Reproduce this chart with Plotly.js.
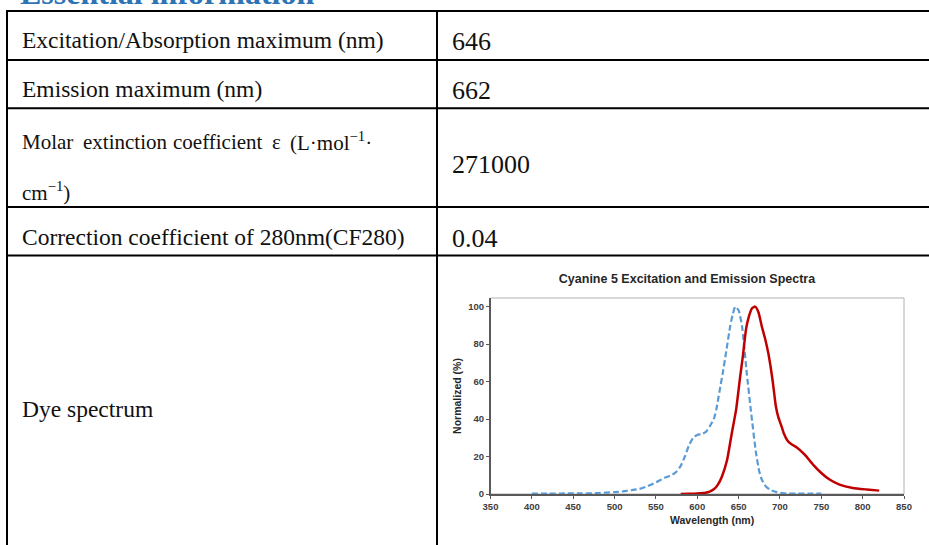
<!DOCTYPE html>
<html>
<head>
<meta charset="utf-8">
<script src="https://cdn.plot.ly/plotly-3.0.1.min.js"></script>
<style>
  html, body { margin: 0; padding: 0; background: #ffffff; }
  #chart { width: 929px; height: 545px; }
</style>
</head>
<body>
<div id="chart"></div>
<script>
// ---------- data ----------
const sectionTitle = "Essential information";
const propertyLabels = [
  "Excitation/Absorption maximum (nm)",
  "Emission maximum (nm)",
  "Molar extinction coefficient ε (L·mol<sup>−1</sup>· cm<sup>−1</sup>)",
  "Correction coefficient of 280nm(CF280)",
  "Dye spectrum"
];
const propertyValues = ["646", "662", "271000", "0.04"];

const chartTitle = "Cyanine 5 Excitation and Emission Spectra";
const xAxisTitle = "Wavelength (nm)";
const yAxisTitle = "Normalized (%)";
const xTickValues = [350, 400, 450, 500, 550, 600, 650, 700, 750, 800, 850];
const yTickValues = [0, 20, 40, 60, 80, 100];

const excitationWavelength = [400, 420, 440, 460, 480, 500, 510, 520, 530, 540, 550, 560, 570, 575, 580, 585, 590, 595, 600, 605, 610, 615, 620, 623, 627, 631, 635, 640, 643, 646, 650, 654, 660, 665, 671, 675, 678, 683, 688, 696, 705, 720, 735, 750];
const excitationValues     = [0.2, 0.2, 0.3, 0.3, 0.5, 1.0, 1.4, 2.0, 2.7, 4.2, 6.2, 8.5, 10.3, 12, 15, 20, 26, 30, 31.5, 32, 33, 36, 40, 45, 55, 65, 76, 90, 96, 100, 98, 90, 64, 44, 22, 12, 7.7, 4, 2.3, 1, 0.4, 0.2, 0.2, 0.2];

const emissionWavelength = [580, 590, 600, 610, 615, 620, 625, 630, 636, 642, 647, 652, 655, 659, 662, 666, 670, 674, 678, 682, 686, 691, 695, 698, 702, 705, 709, 714, 720, 730, 740, 750, 760, 772, 788, 805, 820];
const emissionValues     = [0, 0.1, 0.3, 0.7, 1.3, 2.5, 5, 9.5, 18, 33, 45, 63, 73, 88, 94, 99, 100, 97, 89.5, 83, 75, 61, 47, 41, 36, 32, 28.5, 26.5, 25, 21, 15.7, 11.2, 7.7, 5, 3.2, 2.4, 1.8];

// ---------- layout helpers (pixel -> paper) ----------
const W = 929, H = 545;
const px = x => x / W;
const py = y => 1 - y / H;

const serif = "'Liberation Serif', 'Times New Roman', serif";
const sans = "'Liberation Sans', Arial, sans-serif";

const shapes = [];
function hLine(y) {
  shapes.push({type: 'line', xref: 'paper', yref: 'paper', x0: px(6), x1: px(935), y0: py(y), y1: py(y),
               line: {color: '#000000', width: 2}});
}
function vLine(x, y0, y1) {
  shapes.push({type: 'line', xref: 'paper', yref: 'paper', x0: px(x), x1: px(x), y0: py(y0), y1: py(y1),
               line: {color: '#000000', width: 2}});
}
[11, 60, 108.3, 207, 255.5].forEach(hLine);
vLine(7, 10, 560);
vLine(437, 10, 560);

// plot-area frame
shapes.push({type: 'rect', xref: 'x domain', yref: 'y domain', x0: 0, x1: 1, y0: 0, y1: 1,
             line: {color: '#B0B0B0', width: 1}, layer: 'below'});

const annotations = [];
function text(t, xPx, yPx, size, opts) {
  annotations.push(Object.assign({
    xref: 'paper', yref: 'paper', x: px(xPx - 2), y: py(yPx),
    xanchor: 'left', yanchor: 'middle', showarrow: false, text: t,
    font: {family: serif, size: size, color: '#111111'}
  }, opts || {}));
}

// section title (cut off at top edge, as in the reference)
annotations.push({
  xref: 'paper', yref: 'paper', x: px(18), y: py(13), xanchor: 'left', yanchor: 'bottom',
  showarrow: false, text: sectionTitle,
  font: {family: serif, size: 32, color: '#2E74B5', weight: 'bold'}
});

const labelY = [39.5, 88.7, 141.7, 237, 409];
const valueY = [41.7, 90, 165, 238];

propertyLabels.forEach((lab, i) => {
  if (i === 2) {
    // justified two-line label
    const words = lab.split(' ');
    const line1 = words.slice(0, 5);
    const line2 = words.slice(5).join(' ');
    const wordX = [22, 83, 173, 272, 290];
    line1.forEach((w, k) => text(w, wordX[k], labelY[i], 21));
    text(line2, 22, 191, 21);
  } else {
    text(lab, 22, labelY[i], 23.5);
  }
});
propertyValues.forEach((v, i) => text(v, 452, valueY[i], 26));

// x-axis title placed under the plot as in the reference
annotations.push({
  xref: 'paper', yref: 'paper', x: px(711.5), y: py(520), xanchor: 'center', yanchor: 'middle',
  showarrow: false, text: xAxisTitle,
  font: {family: sans, size: 10.5, color: '#262626', weight: 'bold'}
});

// ---------- traces ----------
const traces = [
  {
    x: excitationWavelength, y: excitationValues, type: 'scatter', mode: 'lines',
    name: 'Excitation', line: {color: '#5B9BD5', width: 2.2, dash: '6px,3px', shape: 'spline', smoothing: 0.5}
  },
  {
    x: emissionWavelength, y: emissionValues, type: 'scatter', mode: 'lines',
    name: 'Emission', line: {color: '#C00000', width: 2.5, shape: 'spline', smoothing: 0.5}
  }
];

const layout = {
  width: W, height: H,
  margin: {l: 0, r: 0, t: 0, b: 0, pad: 0},
  paper_bgcolor: '#ffffff', plot_bgcolor: '#ffffff',
  showlegend: false,
  font: {family: sans, color: '#262626'},
  title: {
    text: chartTitle, x: px(687), xanchor: 'center', xref: 'paper',
    y: py(279), yanchor: 'middle', yref: 'paper',
    font: {family: sans, size: 12.5, color: '#262626', weight: 'bold'}
  },
  xaxis: {
    domain: [px(490.5), px(904)], range: [350, 850],
    tickvals: xTickValues, ticktext: xTickValues.map(String),
    showline: true, linecolor: '#595959', linewidth: 1.5,
    ticks: 'outside', ticklen: 3, tickcolor: '#595959', tickwidth: 1,
    showgrid: false, zeroline: false,
    tickfont: {family: sans, size: 9.5, color: '#404040', weight: 'bold'}
  },
  yaxis: {
    domain: [1 - 494 / H, 1 - 298 / H], range: [0, 104.6],
    tickvals: yTickValues, ticktext: yTickValues.map(String),
    showline: true, linecolor: '#595959', linewidth: 1.5,
    ticks: 'outside', ticklen: 3, tickcolor: '#595959', tickwidth: 1,
    showgrid: false, zeroline: false,
    tickfont: {family: sans, size: 9.5, color: '#404040', weight: 'bold'},
    title: {text: yAxisTitle, standoff: 4, font: {family: sans, size: 10.5, color: '#262626', weight: 'bold'}}
  },
  shapes: shapes,
  annotations: annotations
};

Plotly.newPlot('chart', traces, layout, {displayModeBar: false, staticPlot: true});
</script>
</body>
</html>
